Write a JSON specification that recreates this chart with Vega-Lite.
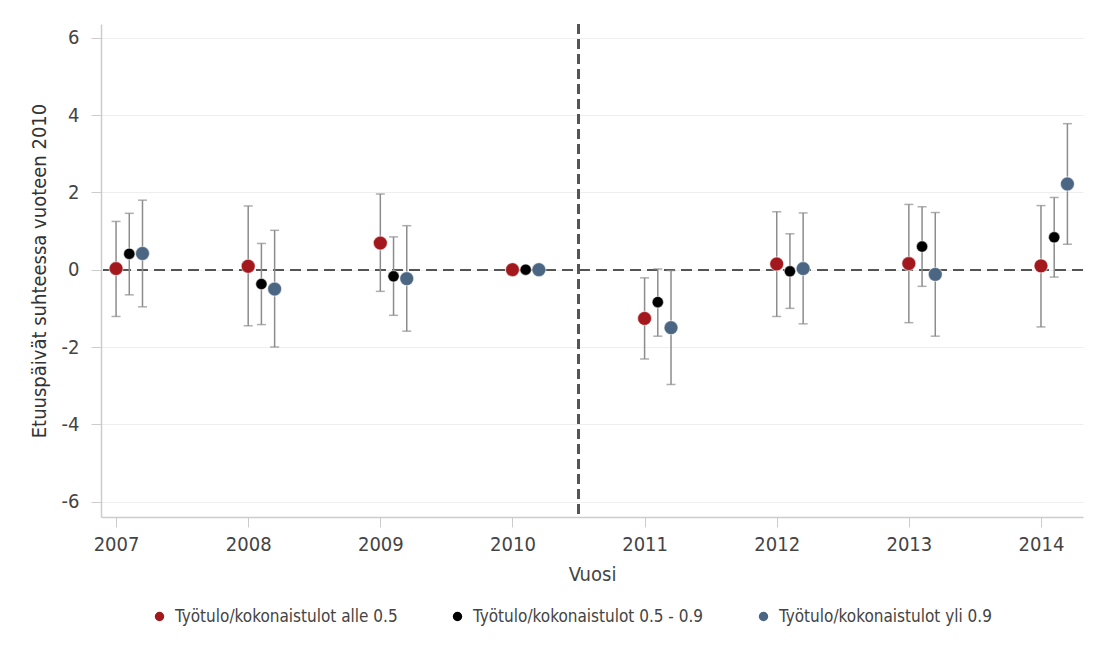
{
  "$schema": "https://vega.github.io/schema/vega-lite/v6.json",
  "width": 982,
  "height": 493,
  "autosize": {"type": "none"},
  "padding": {"left": 101, "top": 24, "right": 20, "bottom": 151},
  "background": "white",
  "config": {
    "font": "DejaVu Sans Condensed, Liberation Sans Narrow, sans-serif",
    "view": {"stroke": null}
  },
  "data": {
    "values": [
      {"year": 2007, "group": "Työtulo/kokonaistulot alle 0.5", "est": 0.03, "lo": -1.21, "hi": 1.25},
      {"year": 2007, "group": "Työtulo/kokonaistulot 0.5 - 0.9", "est": 0.41, "lo": -0.65, "hi": 1.46},
      {"year": 2007, "group": "Työtulo/kokonaistulot yli 0.9", "est": 0.42, "lo": -0.96, "hi": 1.8},
      {"year": 2008, "group": "Työtulo/kokonaistulot alle 0.5", "est": 0.09, "lo": -1.45, "hi": 1.65},
      {"year": 2008, "group": "Työtulo/kokonaistulot 0.5 - 0.9", "est": -0.37, "lo": -1.42, "hi": 0.68},
      {"year": 2008, "group": "Työtulo/kokonaistulot yli 0.9", "est": -0.5, "lo": -2.0, "hi": 1.02},
      {"year": 2009, "group": "Työtulo/kokonaistulot alle 0.5", "est": 0.69, "lo": -0.56, "hi": 1.96},
      {"year": 2009, "group": "Työtulo/kokonaistulot 0.5 - 0.9", "est": -0.17, "lo": -1.18, "hi": 0.85},
      {"year": 2009, "group": "Työtulo/kokonaistulot yli 0.9", "est": -0.23, "lo": -1.59, "hi": 1.14},
      {"year": 2010, "group": "Työtulo/kokonaistulot alle 0.5", "est": 0, "lo": null, "hi": null},
      {"year": 2010, "group": "Työtulo/kokonaistulot 0.5 - 0.9", "est": 0, "lo": null, "hi": null},
      {"year": 2010, "group": "Työtulo/kokonaistulot yli 0.9", "est": 0, "lo": null, "hi": null},
      {"year": 2011, "group": "Työtulo/kokonaistulot alle 0.5", "est": -1.26, "lo": -2.31, "hi": -0.21},
      {"year": 2011, "group": "Työtulo/kokonaistulot 0.5 - 0.9", "est": -0.84, "lo": -1.72, "hi": 0.02},
      {"year": 2011, "group": "Työtulo/kokonaistulot yli 0.9", "est": -1.5, "lo": -2.97, "hi": -0.02},
      {"year": 2012, "group": "Työtulo/kokonaistulot alle 0.5", "est": 0.15, "lo": -1.21, "hi": 1.5},
      {"year": 2012, "group": "Työtulo/kokonaistulot 0.5 - 0.9", "est": -0.04, "lo": -1.0, "hi": 0.93},
      {"year": 2012, "group": "Työtulo/kokonaistulot yli 0.9", "est": 0.03, "lo": -1.4, "hi": 1.47},
      {"year": 2013, "group": "Työtulo/kokonaistulot alle 0.5", "est": 0.16, "lo": -1.37, "hi": 1.69},
      {"year": 2013, "group": "Työtulo/kokonaistulot 0.5 - 0.9", "est": 0.6, "lo": -0.43, "hi": 1.63},
      {"year": 2013, "group": "Työtulo/kokonaistulot yli 0.9", "est": -0.12, "lo": -1.72, "hi": 1.48},
      {"year": 2014, "group": "Työtulo/kokonaistulot alle 0.5", "est": 0.1, "lo": -1.48, "hi": 1.66},
      {"year": 2014, "group": "Työtulo/kokonaistulot 0.5 - 0.9", "est": 0.84, "lo": -0.19, "hi": 1.87},
      {"year": 2014, "group": "Työtulo/kokonaistulot yli 0.9", "est": 2.22, "lo": 0.66, "hi": 3.78}
    ]
  },
  "transform": [
    {"calculate": "datum.year + 0.1 * indexof(['Työtulo/kokonaistulot alle 0.5', 'Työtulo/kokonaistulot 0.5 - 0.9', 'Työtulo/kokonaistulot yli 0.9'], datum.group)", "as": "pos"}
  ],
  "encoding": {
    "x": {
      "field": "pos",
      "type": "quantitative",
      "scale": {"domain": [2006.886, 2014.318], "nice": false, "zero": false},
      "axis": {
        "title": "Vuosi",
        "values": [2007, 2008, 2009, 2010, 2011, 2012, 2013, 2014],
        "format": "d",
        "grid": false,
        "domainColor": "#cccccc",
        "domainWidth": 1.5,
        "tickColor": "#cccccc",
        "tickSize": 10,
        "tickWidth": 1,
        "labelFontSize": 20,
        "labelColor": "#444444",
        "labelPadding": 7,
        "titleFontSize": 20,
        "titleFontWeight": "normal",
        "titleColor": "#444444",
        "titlePadding": 10
      }
    }
  },
  "layer": [
    {
      "mark": {"type": "rule", "color": "#555555", "strokeWidth": 1.3, "strokeDash": [11, 6]},
      "encoding": {"y": {"datum": 0}, "x": null}
    },
    {
      "mark": {"type": "rule", "color": "#555555", "strokeWidth": 1.6, "strokeDash": [10, 5]},
      "encoding": {"x": {"datum": 2010.5, "type": "quantitative"}}
    },
    {
      "mark": {"type": "rule", "color": "#8c8c8c", "strokeWidth": 1.5},
      "encoding": {
        "y": {
          "field": "lo",
          "type": "quantitative",
          "scale": {"domain": [-6.4, 6.36], "nice": false, "zero": false},
          "axis": {
            "title": "Etuuspäivät suhteessa vuoteen 2010",
            "values": [-6, -4, -2, 0, 2, 4, 6],
            "labelExpr": "datum.value",
            "grid": true,
            "gridColor": "#eeeeee",
            "gridWidth": 1.2,
            "domainColor": "#cccccc",
            "domainWidth": 1.5,
            "tickColor": "#cccccc",
            "tickSize": 10,
            "labelFontSize": 20,
            "labelColor": "#444444",
            "labelPadding": 12,
            "titleFontSize": 20,
            "titleFontWeight": "normal",
            "titleColor": "#333333",
            "titlePadding": 12
          }
        },
        "y2": {"field": "hi"}
      }
    },
    {
      "mark": {"type": "tick", "orient": "horizontal", "color": "#8c8c8c", "size": 9, "thickness": 1.5},
      "encoding": {"y": {"field": "lo", "type": "quantitative"}}
    },
    {
      "mark": {"type": "tick", "orient": "horizontal", "color": "#8c8c8c", "size": 9, "thickness": 1.5},
      "encoding": {"y": {"field": "hi", "type": "quantitative"}}
    },
    {
      "mark": {"type": "point", "filled": true, "opacity": 1, "stroke": "#ffffff", "strokeWidth": 1.2, "strokeOpacity": 0.5},
      "encoding": {
        "y": {"field": "est", "type": "quantitative"},
        "color": {
          "field": "group",
          "type": "nominal",
          "scale": {
            "domain": ["Työtulo/kokonaistulot alle 0.5", "Työtulo/kokonaistulot 0.5 - 0.9", "Työtulo/kokonaistulot yli 0.9"],
            "range": ["#a3181d", "#000000", "#4b6682"]
          },
          "legend": {
            "title": null,
            "orient": "none",
            "direction": "horizontal",
            "legendX": 50,
            "legendY": 584,
            "symbolType": "circle",
            "symbolSize": 120,
            "labelFontSize": 17,
            "labelColor": "#444444",
            "labelOffset": 7,
            "labelLimit": 0,
            "columnPadding": 51
          }
        },
        "size": {
          "condition": {"test": "datum.group === 'Työtulo/kokonaistulot 0.5 - 0.9'", "value": 130},
          "value": 195
        }
      }
    }
  ]
}
